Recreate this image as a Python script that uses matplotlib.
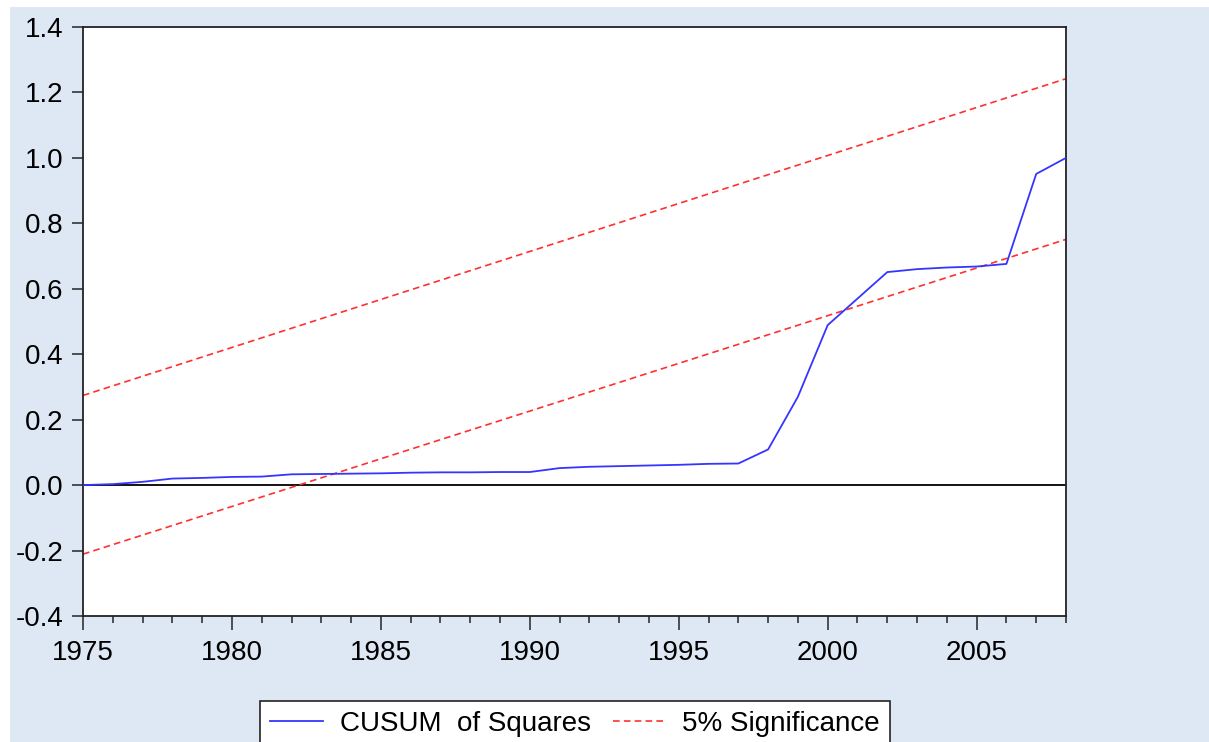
import matplotlib
matplotlib.use("Agg")
import matplotlib.pyplot as plt
from matplotlib.ticker import MultipleLocator
import matplotlib.patches as mpatches

plt.rcParams['font.family'] = ['Liberation Sans', 'DejaVu Sans']

years = list(range(1975, 2009))
cusum_sq = [0.000, 0.003, 0.010, 0.020, 0.022, 0.025, 0.026, 0.033, 0.034, 0.035,
            0.036, 0.038, 0.039, 0.039, 0.040, 0.040, 0.052, 0.056, 0.058, 0.060,
            0.062, 0.065, 0.066, 0.109, 0.270, 0.489, 0.570, 0.651, 0.660, 0.665,
            0.668, 0.676, 0.951, 1.000]
sig_years = [1975, 2008]
upper_bound = [0.274, 1.242]
lower_bound = [-0.211, 0.751]
y_ticks = [-0.4, -0.2, 0.0, 0.2, 0.4, 0.6, 0.8, 1.0, 1.2, 1.4]
y_tick_labels = ['-0.4', '-0.2', '0.0', '0.2', '0.4', '0.6', '0.8', '1.0', '1.2', '1.4']

bg = '#DDE8F4'
fig = plt.figure(figsize=(12.09, 7.42), dpi=100, facecolor='white')
fig.patches.append(mpatches.Rectangle((10/1209, 0), 1, 1 - 7/742, transform=fig.transFigure,
                                      facecolor=bg, edgecolor='none', zorder=-10))
ax = fig.add_axes([83/1209, 1 - 616/742, (1066 - 83)/1209, (616 - 27)/742])
ax.set_facecolor('white')

ax.axhline(0, color='black', lw=1.3, zorder=1)
l1, = ax.plot(years, cusum_sq, color='#3535FF', lw=1.3, zorder=3, label='CUSUM  of Squares')
l2, = ax.plot(sig_years, upper_bound, color='#FF3030', lw=1.2, ls=(0, (4, 2.5)), zorder=2,
              label='5% Significance')
ax.plot(sig_years, lower_bound, color='#FF3030', lw=1.2, ls=(0, (4, 2.5)), zorder=2)

ax.set_xlim(1975, 2008)
ax.set_ylim(-0.4, 1.4)
ax.xaxis.set_major_locator(MultipleLocator(5))
ax.xaxis.set_minor_locator(MultipleLocator(1))
ax.set_yticks(y_ticks)
ax.set_yticklabels(y_tick_labels)

ax.tick_params(axis='y', which='major', direction='out', length=8, width=1.2,
               labelsize=20, pad=6, color='#333333')
ax.tick_params(axis='x', which='major', direction='out', length=10, width=1.2,
               labelsize=20, pad=7, color='#333333')
ax.tick_params(axis='x', which='minor', direction='out', length=5, width=1.2, color='#333333')
for s in ax.spines.values():
    s.set_color('#222222')
    s.set_linewidth(1.3)

leg = fig.legend(handles=[l1, l2], loc='upper center', bbox_to_anchor=(575/1209, 1 - 701/742),
                 ncol=2, fontsize=20, frameon=True, fancybox=False, handlelength=1.9,
                 columnspacing=0.8, handletextpad=0.6, borderpad=0.35, borderaxespad=0)
leg.get_frame().set_edgecolor('#222222')
leg.get_frame().set_linewidth(1.2)
leg.get_frame().set_facecolor('white')
leg.get_frame().set_alpha(1)

fig.savefig('out.png', dpi=100, facecolor=fig.get_facecolor())
